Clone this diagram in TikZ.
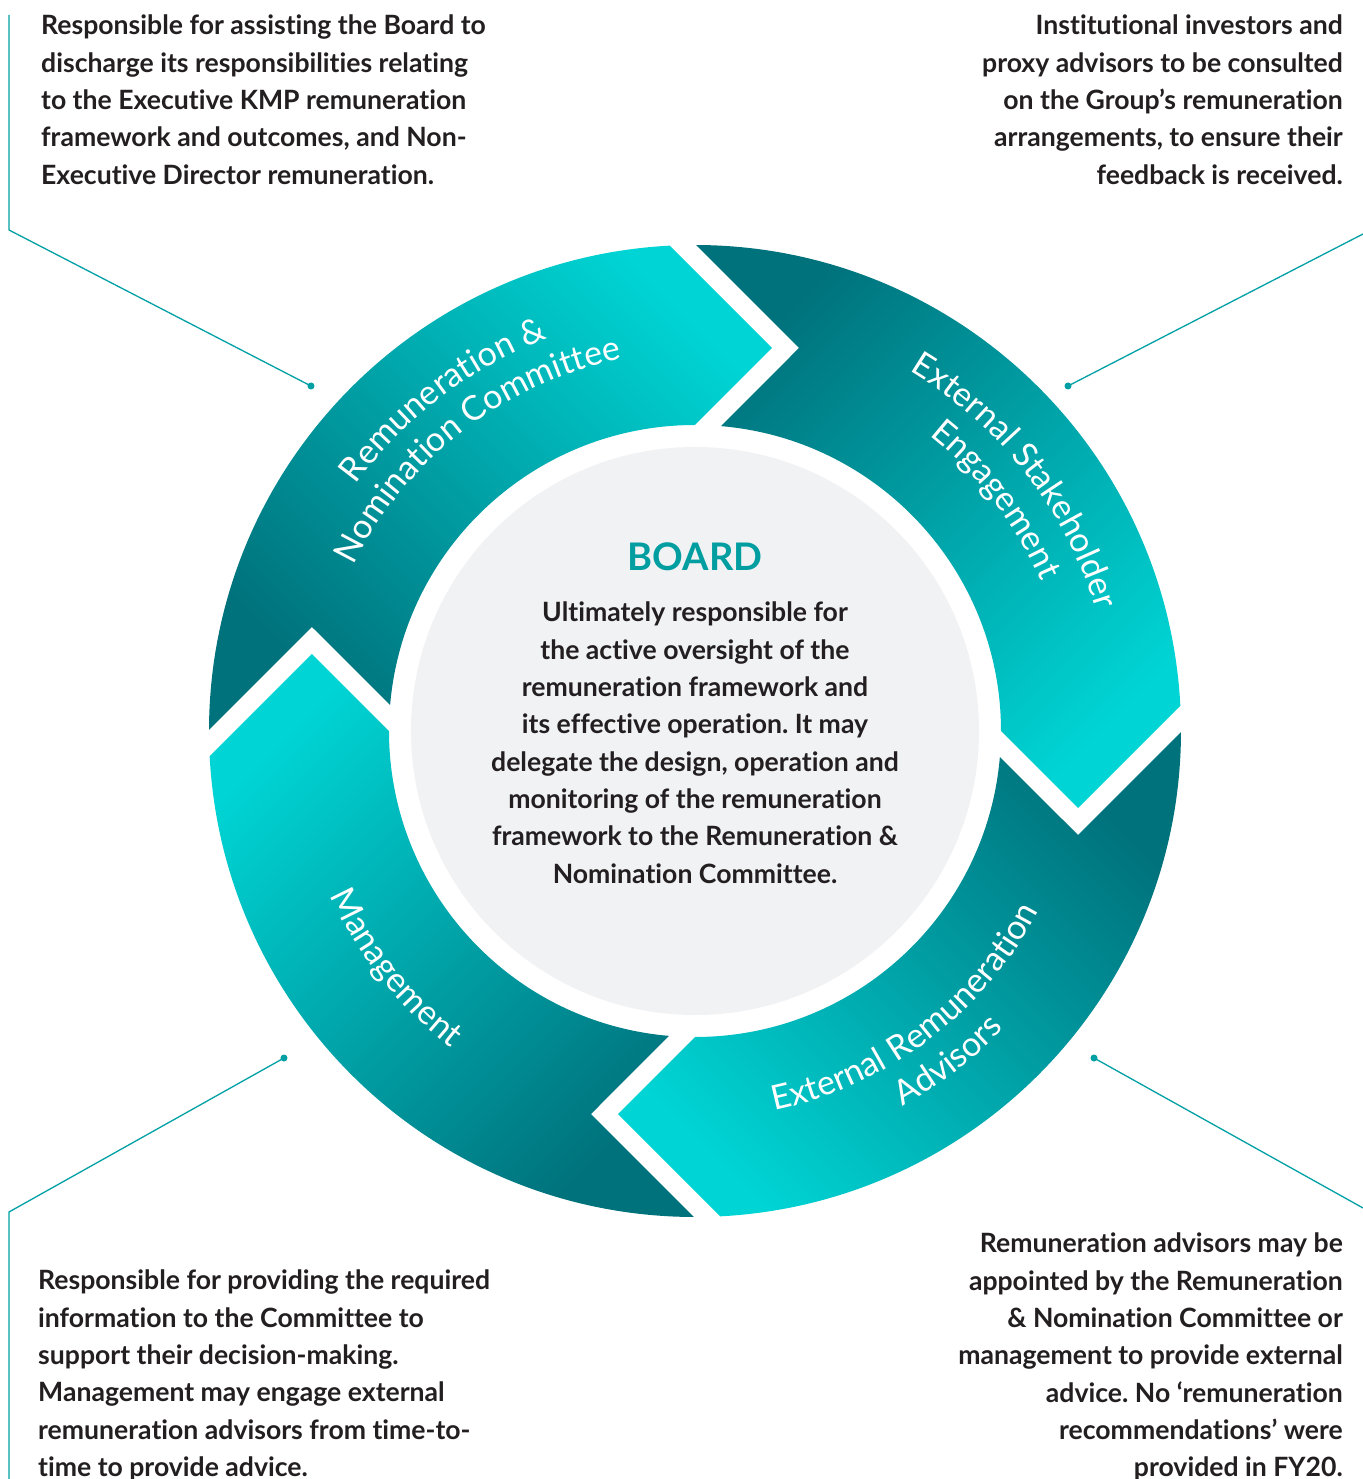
\documentclass[tikz,border=0pt]{standalone}
\usepackage{fontspec}
\setmainfont{Lato}[Ligatures=CommonOff]
\usetikzlibrary{decorations.text}
\frenchspacing

\definecolor{ringdark}{RGB}{0,114,124}
\definecolor{ringbright}{RGB}{0,212,212}
\definecolor{hubgray}{RGB}{241,242,244}
\definecolor{leadteal}{RGB}{0,160,165}
\definecolor{boardteal}{RGB}{0,158,160}
\definecolor{bodyink}{RGB}{35,31,32}

% white lettering set along the ring segments
\newcommand\ringlab{\fontsize{34}{40}\selectfont\color{white}}

\begin{document}
\begin{tikzpicture}[x=1pt, y=1pt,
  segment/.style={top color=ringbright, bottom color=ringdark},
  lead/.style={draw=leadteal, line width=1.3pt},
  note/.style={inner sep=0pt, text=bodyink, font=\bfseries\fontsize{26.6}{37.3}\selectfont},
  ringtext/.style={decorate, decoration={text along path, text align=center, text={#1}}}
]
\useasboundingbox[fill=white] (-695,-748) rectangle (667,731);

% four chevron segments of the ring, each a quarter turn from the last
\foreach \rot/\ang in {0/-45, -90/-135, -180/135, -270/45} {
  \shade[segment, shading angle=\ang, rotate=\rot]
    (179.88:486) arc[start angle=179.88, end angle=92.98, radius=486]
    -- (77,383) -- (90:306)
    arc[start angle=90, end angle=175.14, radius=306]
    -- (-383,104) -- cycle;
}

% central hub
\node[circle, fill=hubgray, minimum size=568pt, inner sep=0pt] (hub) at (0,0) {};

% segment titles
\path[ringtext={|\ringlab|Remuneration {\&}}]
  (167.3:419) arc[start angle=167.3, end angle=87.3, radius=419];
\path[ringtext={|\ringlab|Nomination Committee}]
  (167.6:379) arc[start angle=167.6, end angle=87.6, radius=379];
\path[ringtext={|\ringlab|External Stakeholder}]
  (78:419) arc[start angle=78, end angle=-2, radius=419];
\path[ringtext={|\ringlab|Engagement}]
  (77.5:377) arc[start angle=77.5, end angle=-2.5, radius=377];
\path[ringtext={|\ringlab|External Remuneration}]
  (-92.9:388) arc[start angle=-92.9, end angle=-12.9, radius=388];
\path[ringtext={|\ringlab|Advisors}]
  (-92.5:429) arc[start angle=-92.5, end angle=-12.5, radius=429];
\path[ringtext={|\ringlab|Management}]
  (178.3:400) arc[start angle=178.3, end angle=258.3, radius=400];

% board text
\node[inner sep=0pt, text=boardteal, font=\bfseries\fontsize{38}{40}\selectfont, anchor=base]
  (board) at (0,160) {BOARD};
\node[note, align=center, anchor=north] (boardnote) at (0,129)
  {Ultimately responsible for\\the active oversight of the\\remuneration framework and\\its effective operation. It may\\delegate the design, operation and\\monitoring of the remuneration\\framework to the Remuneration \&\\Nomination Committee.};

% corner notes
\node[note, align=left, anchor=north west] (remnote) at (-654,716)
  {Responsible for assisting the Board to\\discharge its responsibilities relating\\to the Executive KMP remuneration\\framework and outcomes, and Non-\\Executive Director remuneration.};
\node[note, align=right, anchor=north east] (stakenote) at (648,716)
  {Institutional investors and\\proxy advisors to be consulted\\on the Group’s remuneration\\arrangements, to ensure their\\feedback is received.};
\node[note, align=left, anchor=north west] (mgmtnote) at (-657,-539)
  {Responsible for providing the required\\information to the Committee to\\support their decision-making.\\Management may engage external\\remuneration advisors from time-to-\\time to provide advice.};
\node[note, align=right, anchor=north east] (advnote) at (648,-502)
  {Remuneration advisors may be\\appointed by the Remuneration\\\& Nomination Committee or\\management to provide external\\advice. No ‘remuneration\\recommendations’ were\\provided in FY20.};

% leader lines
\coordinate (tlTop) at (-686,716);
\coordinate (tlBend) at (-686,501);
\coordinate (tlDot) at (-384,345);
\coordinate (trEnd) at (668,497);
\coordinate (trDot) at (373,345);
\coordinate (blDot) at (-411,-327);
\coordinate (blBend) at (-686,-481);
\coordinate (blEnd) at (-686,-748);
\coordinate (brDot) at (399,-327);
\coordinate (brEnd) at (668,-477);

\draw[lead] (tlTop) -- (tlBend) -- (tlDot);
\draw[lead] (trEnd) -- (trDot);
\draw[lead] (blDot) -- (blBend) -- (blEnd);
\draw[lead] (brDot) -- (brEnd);
\foreach \d in {tlDot, trDot, blDot, brDot}
  \fill[leadteal] (\d) circle (3.5);
\end{tikzpicture}
\end{document}
